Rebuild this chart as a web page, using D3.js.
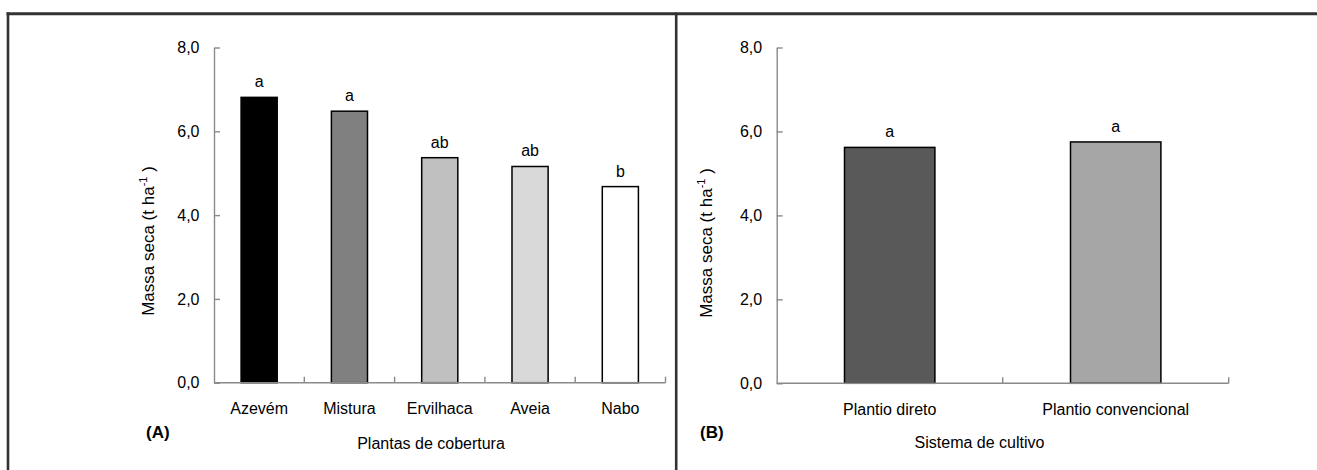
<!DOCTYPE html>
<html>
<head>
<meta charset="utf-8">
<script src="https://cdn.jsdelivr.net/npm/d3@7"></script>
<style>
  html, body { margin: 0; padding: 0; background: #fff; }
  svg { display: block; font-family: "Liberation Sans", Arial, sans-serif; }
</style>
</head>
<body>
<svg id="chart" width="1317" height="470"></svg>
<script>
// ---- data ----
const categoriasA = ["Azevém", "Mistura", "Ervilhaca", "Aveia", "Nabo"];
const massaA = [6.81, 6.48, 5.37, 5.16, 4.68];
const letrasA = ["a", "a", "ab", "ab", "b"];

const categoriasB = ["Plantio direto", "Plantio convencional"];
const massaB = [5.62, 5.75];
const letrasB = ["a", "a"];

const yTickValues = [0, 2, 4, 6, 8];
const yTitle = "Massa seca (t ha";
const xTitleA = "Plantas de cobertura";
const xTitleB = "Sistema de cultivo";

// ---- drawing ----
const svg = d3.select("#chart");

// frame
const frame = svg.append("g").attr("stroke", "#333").attr("stroke-width", 2.6);
frame.append("line").attr("x1", 6.5).attr("x2", 1317).attr("y1", 13.8).attr("y2", 13.8).attr("stroke-width", 3);
frame.append("line").attr("x1", 8).attr("x2", 8).attr("y1", 12.5).attr("y2", 470);
frame.append("line").attr("x1", 676.2).attr("x2", 676.2).attr("y1", 12.5).attr("y2", 470);

const fmt = d => d3.format(".1f")(d).replace(".", ",");

function panel(cfg) {
  const { cats, vals, letters, colors, x0, x1, y0, y1, titleX, titleY, label, labelX, labelY, xTitle, xTitleX, xTitleY } = cfg;
  const g = svg.append("g");
  const y = d3.scaleLinear().domain([0, 8]).range([y0, y1]);
  const x = d3.scaleBand().domain(cats).range([x0, x1]).paddingInner(0.6).paddingOuter(0.3);
  const color = d3.scaleOrdinal().domain(cats).range(colors);
  const step = x.step();

  // y axis
  const yAxis = g.append("g").attr("transform", `translate(${x0},0)`)
    .call(d3.axisLeft(y).tickValues(yTickValues).tickFormat(fmt).tickSizeInner(-6).tickSizeOuter(0).tickPadding(14.5));
  yAxis.selectAll("path, line").attr("stroke", "#8a8a8a").attr("stroke-width", 1.4);
  yAxis.selectAll("text").attr("font-size", 16).attr("fill", "#000");
  yAxis.attr("font-family", null);

  // bars
  g.selectAll("rect.bar").data(cats).join("rect").attr("class", "bar")
    .attr("x", d => x(d)).attr("width", x.bandwidth())
    .attr("y", (d, i) => y(vals[i])).attr("height", (d, i) => y(0) - y(vals[i]))
    .attr("fill", d => color(d)).attr("stroke", "#000").attr("stroke-width", 1.5);

  // letters
  g.selectAll("text.letter").data(cats).join("text").attr("class", "letter")
    .attr("x", d => x(d) + x.bandwidth() / 2).attr("y", (d, i) => y(vals[i]) - 10)
    .attr("text-anchor", "middle").attr("font-size", 16).text((d, i) => letters[i]);

  // x axis line + inside ticks at band boundaries
  const xAxis = g.append("g").attr("stroke", "#8a8a8a").attr("stroke-width", 1.4);
  xAxis.append("line").attr("x1", x0).attr("x2", x1).attr("y1", y(0)).attr("y2", y(0));
  const bounds = cats.map(d => x(d) - step * x.paddingOuter() + step);
  xAxis.selectAll("line.tk").data(bounds).join("line").attr("class", "tk")
    .attr("x1", d => d).attr("x2", d => d).attr("y1", y(0)).attr("y2", y(0) - 6);

  // category labels
  g.selectAll("text.cat").data(cats).join("text").attr("class", "cat")
    .attr("x", d => x(d) + x.bandwidth() / 2).attr("y", y(0) + 31.5)
    .attr("text-anchor", "middle").attr("font-size", 16).text(d => d);

  // y title
  const t = g.append("text").attr("transform", `translate(${titleX},${titleY}) rotate(-90)`)
    .attr("text-anchor", "middle").attr("font-size", 17);
  t.append("tspan").text(yTitle);
  t.append("tspan").attr("font-size", 11).attr("dy", -7).text("-1");
  t.append("tspan").attr("dy", 7).text(" )");

  // panel label
  g.append("text").attr("x", labelX).attr("y", labelY).attr("font-size", 17).attr("font-weight", "bold").text(label);

  // x title
  g.append("text").attr("x", xTitleX).attr("y", xTitleY).attr("text-anchor", "middle").attr("font-size", 16).text(xTitle);
}

panel({
  cats: categoriasA, vals: massaA, letters: letrasA,
  colors: ["#000000", "#808080", "#c0c0c0", "#d9d9d9", "#ffffff"],
  x0: 214, x1: 665.5, y0: 382.7, y1: 47.5,
  titleX: 154, titleY: 241, label: "(A)", labelX: 146, labelY: 438,
  xTitle: xTitleA, xTitleX: 431, xTitleY: 449
});

panel({
  cats: categoriasB, vals: massaB, letters: letrasB,
  colors: ["#595959", "#a6a6a6"],
  x0: 776.7, x1: 1228.7, y0: 383.3, y1: 47.5,
  titleX: 712, titleY: 243, label: "(B)", labelX: 700, labelY: 438,
  xTitle: xTitleB, xTitleX: 979.5, xTitleY: 447.5
});
</script>
</body>
</html>
